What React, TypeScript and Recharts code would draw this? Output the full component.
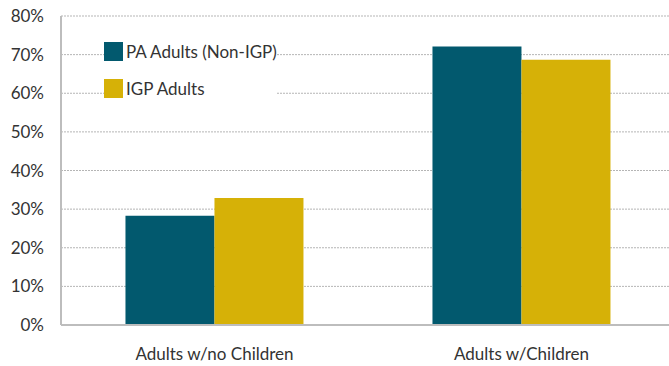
import { BarChart, Bar, XAxis, YAxis, CartesianGrid } from "recharts";

const categories = ["Adults w/no Children", "Adults w/Children"];
const paAdults = [28.3, 72.1];
const igpAdults = [32.9, 68.7];
const yTicks = [0, 10, 20, 30, 40, 50, 60, 70, 80];

const seriesInfo = [
  { key: "pa", name: "PA Adults (Non-IGP)", color: "#02596e" },
  { key: "igp", name: "IGP Adults", color: "#d6b107" },
];

const data = categories.map((name, i) => ({
  name,
  pa: paAdults[i],
  igp: igpAdults[i],
}));

const FONT = "Lato, 'Open Sans', sans-serif";

// legend sits inside the plot, top-left, like the original
const LegendBox = () => (
  <div
    style={{
      position: "absolute",
      left: 104,
      top: 42,
      fontFamily: FONT,
      fontSize: 17,
      color: "#333",
      background: "#fff",
    }}
  >
    {seriesInfo.map((s) => (
      <div
        key={s.key}
        style={{ display: "flex", alignItems: "center", height: 19, marginBottom: 18 }}
      >
        <div style={{ width: 19, height: 19, background: s.color, marginRight: 3 }} />
        <span>{s.name}</span>
      </div>
    ))}
  </div>
);

export default function App() {
  return (
    <div
      style={{
        position: "absolute",
        left: 0,
        top: 0,
        width: 669,
        height: 366,
        overflow: "hidden",
        background: "#fff",
      }}
    >
      <BarChart
        width={675}
        height={366}
        data={data}
        margin={{ top: 16, right: 0, left: 0, bottom: 0 }}
        barCategoryGap="21%"
        barGap={0}
      >
        <CartesianGrid
          vertical={false}
          stroke="#b5b5b5"
          strokeDasharray="2 1"
        />
        <XAxis
          dataKey="name"
          height={41}
          tickLine={false}
          tickSize={0}
          tickMargin={23}
          axisLine={{ stroke: "#bdbdbd", strokeWidth: 2 }}
          tick={{ fill: "#333", fontSize: 17, fontFamily: FONT }}
        />
        <YAxis
          width={61}
          domain={[0, 80]}
          ticks={yTicks}
          tickFormatter={(v) => `${v}%`}
          tickLine={false}
          tickSize={0}
          tickMargin={17}
          axisLine={{ stroke: "#bdbdbd", strokeWidth: 2 }}
          tick={{ fill: "#333", fontSize: 17, fontFamily: FONT }}
        />
        {seriesInfo.map((s) => (
          <Bar
            key={s.key}
            dataKey={s.key}
            name={s.name}
            fill={s.color}
            isAnimationActive={false}
          />
        ))}
      </BarChart>
      <LegendBox />
    </div>
  );
}
